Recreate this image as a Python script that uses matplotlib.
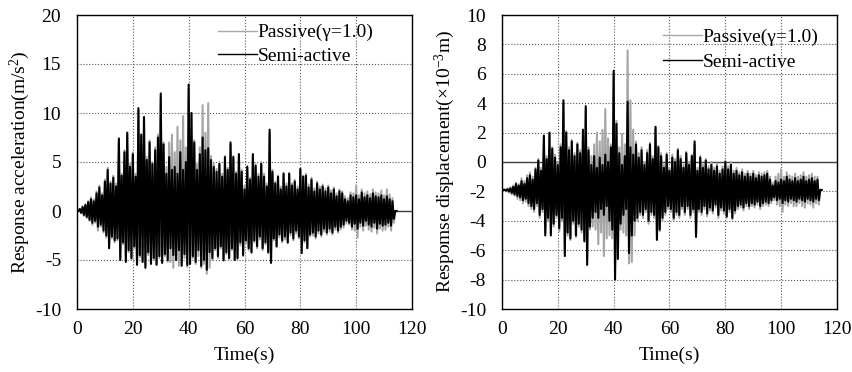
import numpy as np
import matplotlib
matplotlib.use('Agg')
import matplotlib.pyplot as plt

plt.rcParams['font.family'] = ['Liberation Serif', 'DejaVu Serif']
plt.rcParams['mathtext.fontset'] = 'custom'
plt.rcParams['mathtext.rm'] = 'Liberation Serif'
plt.rcParams['mathtext.it'] = 'Liberation Serif:italic'
plt.rcParams['axes.unicode_minus'] = False

# time (s), one envelope sample per second
t = list(range(115))

# acceleration (m/s^2): upper / lower peaks per second
acc_semi_up = [0, 0.2, 0.4, 0.6, 0.9, 1.2, 1.0, 1.8, 2.4, 1.6,
               3.0, 4.2, 2.8, 3.4, 2.5, 7.4, 3.6, 6.0, 8.0, 4.5,
               5.8, 3.5, 10.5, 7.8, 9.6, 5.2, 7.0, 4.8, 6.2, 7.5,
               12.0, 6.8, 3.8, 5.5, 4.2, 4.5, 3.8, 6.0, 4.2, 5.0,
               12.9, 10.0, 7.0, 4.2, 5.8, 7.5, 6.2, 6.4, 5.2, 4.5,
               4.0, 4.8, 3.5, 5.5, 4.2, 7.0, 5.5, 3.8, 5.8, 4.0,
               2.2, 4.5, 3.2, 5.8, 4.6, 3.5, 4.8, 3.5, 2.5, 8.3,
               4.0, 2.8, 3.5, 2.2, 3.8, 2.5, 3.8, 2.6, 3.0, 2.2,
               4.3, 3.5, 3.6, 2.4, 3.2, 2.0, 2.8, 2.2, 2.5, 2.0,
               2.4, 1.8, 2.2, 1.5, 2.0, 1.8, 1.2, 1.0, 1.6, 1.4,
               1.6, 1.2, 1.9, 1.4, 1.6, 1.3, 1.8, 1.5, 1.4, 1.6,
               1.2, 1.5, 1.2, 1.0, 0.0]
acc_semi_lo = [0, -0.2, -0.4, -0.6, -0.9, -1.2, -1.0, -1.6, -1.4, -2.0,
               -2.5, -3.8, -2.6, -3.0, -2.8, -5.0, -3.2, -5.2, -4.0, -4.8,
               -3.6, -5.5, -4.5, -5.2, -5.8, -4.2, -5.4, -4.8, -5.5, -4.6,
               -5.3, -4.4, -5.0, -3.8, -4.5, -5.0, -4.0, -5.6, -4.4, -5.5,
               -5.4, -4.6, -5.2, -4.0, -5.6, -5.0, -6.0, -4.2, -4.8, -3.8,
               -4.6, -3.6, -5.0, -4.2, -4.8, -3.8, -5.0, -4.8, -3.2, -4.5,
               -3.0, -3.8, -4.2, -3.0, -3.6, -2.6, -3.8, -3.2, -4.2, -5.3,
               -2.8, -3.6, -2.4, -3.0, -2.6, -3.2, -2.2, -2.8, -2.0, -2.6,
               -4.3, -3.0, -3.8, -2.4, -2.2, -2.6, -2.0, -2.4, -1.8, -2.2,
               -1.8, -2.2, -1.6, -2.0, -1.6, -1.4, -1.0, -1.2, -1.6, -1.3,
               -1.8, -1.2, -1.5, -1.0, -1.4, -1.6, -1.2, -1.8, -1.3, -1.5,
               -1.4, -1.2, -1.5, -0.8, 0.0]
acc_pass_up = [0, 0.2, 0.5, 0.7, 1.0, 1.4, 1.2, 2.0, 2.6, 1.8,
               3.2, 4.4, 3.0, 3.6, 2.8, 7.2, 3.8, 6.2, 7.8, 4.8,
               6.0, 3.8, 10.3, 7.6, 9.4, 5.5, 7.2, 5.0, 6.5, 7.8,
               11.5, 7.0, 4.5, 7.0, 7.8, 6.0, 8.6, 7.2, 9.7, 6.5,
               12.5, 9.8, 7.2, 4.8, 6.5, 10.8, 8.0, 11.0, 5.6, 4.8,
               4.3, 5.0, 3.8, 5.6, 4.4, 6.8, 5.6, 4.0, 5.8, 4.2,
               2.6, 4.6, 3.4, 5.8, 4.8, 3.8, 5.0, 3.8, 2.8, 8.0,
               4.2, 3.0, 3.6, 2.5, 3.9, 2.8, 3.9, 2.8, 3.2, 2.5,
               4.2, 3.6, 3.8, 2.7, 3.4, 2.3, 3.0, 2.5, 2.7, 2.3,
               2.6, 2.1, 2.4, 1.8, 2.2, 2.0, 1.5, 1.3, 1.9, 1.8,
               2.6, 1.6, 2.2, 1.8, 2.0, 1.7, 2.2, 1.9, 1.8, 2.1,
               1.6, 2.2, 1.7, 1.3, 0.0]
acc_pass_lo = [0, -0.2, -0.5, -0.7, -1.0, -1.4, -1.2, -2.0, -1.6, -2.2,
               -2.7, -3.6, -2.8, -3.2, -3.0, -4.8, -3.4, -5.0, -4.2, -5.0,
               -3.8, -5.3, -4.7, -5.0, -5.6, -4.5, -5.2, -5.0, -5.3, -4.8,
               -5.1, -4.6, -5.2, -5.2, -5.8, -5.0, -5.6, -5.4, -4.8, -5.7,
               -5.2, -4.8, -5.4, -4.6, -5.8, -5.4, -6.4, -5.8, -5.0, -4.0,
               -4.8, -3.8, -5.1, -4.4, -4.9, -4.0, -5.0, -4.9, -3.5, -4.6,
               -3.3, -4.0, -4.3, -3.2, -3.8, -2.9, -4.0, -3.4, -4.3, -5.0,
               -3.0, -3.7, -2.7, -3.2, -2.9, -3.3, -2.5, -3.0, -2.3, -2.8,
               -3.0, -3.2, -3.7, -2.6, -2.5, -2.8, -2.3, -2.6, -2.1, -2.4,
               -2.1, -2.4, -1.9, -2.2, -1.9, -1.7, -1.3, -1.4, -1.9, -2.0,
               -2.7, -1.6, -2.0, -1.5, -1.9, -2.1, -1.7, -2.3, -1.8, -2.0,
               -1.9, -1.6, -2.0, -1.2, 0.0]

# displacement (x10^-3 m): upper / lower peaks per second
dis_semi_up = [-1.9, -1.9, -1.85, -1.8, -1.7, -1.5, -1.6, -1.3, -1.5, -1.1,
               -0.9, -1.2, -0.5, 0.1, -0.6, 1.8, 0.2, 2.0, 0.9, 0.3,
               -0.2, 1.0, 4.2, 2.0, 0.8, 1.4, 0.4, 1.2, 0.6, 2.2,
               3.8, 0.8, -0.2, 0.4, -0.4, 0.3, -0.2, 0.5, 0.0, 1.0,
               6.2, 2.6, 0.6, -0.2, 0.4, 4.1, 1.0, 0.5, 1.2, 0.3,
               0.8, -0.2, 0.6, 1.2, 0.2, 2.4, 1.0, 0.4, -0.4, 0.5,
               -0.6, 0.3, 0.0, 0.8, 0.2, -0.4, 0.6, -0.2, 0.4, 1.4,
               -0.6, 0.3, -0.4, 0.1, -0.5, -0.2, -0.6, -0.3, -0.8, -0.5,
               0.0, -0.5, -0.2, -0.8, -0.6, -0.9, -0.7, -1.0, -0.8, -1.0,
               -0.8, -1.1, -0.9, -1.0, -0.9, -0.8, -1.2, -1.6, -1.3, -1.4,
               -1.2, -1.3, -1.0, -1.2, -1.3, -1.1, -1.3, -1.2, -1.0, -1.3,
               -1.2, -1.1, -1.3, -1.2, -1.9]
dis_semi_lo = [-1.9, -1.95, -2.0, -2.1, -2.2, -2.3, -2.4, -2.6, -2.5, -2.8,
               -3.0, -3.2, -2.8, -3.6, -3.2, -5.0, -3.8, -5.0, -4.2, -3.6,
               -4.5, -3.8, -6.4, -4.8, -5.2, -4.0, -5.0, -4.2, -4.6, -5.4,
               -7.0, -4.4, -3.8, -3.4, -3.8, -3.2, -3.6, -3.0, -4.0, -4.6,
               -8.0, -6.6, -4.2, -3.6, -3.2, -6.2, -5.0, -4.0, -3.8, -3.4,
               -3.6, -3.2, -4.0, -3.4, -3.6, -5.3, -4.6, -3.8, -3.4, -3.0,
               -3.2, -3.8, -3.4, -3.6, -3.0, -3.4, -3.0, -3.6, -3.2, -5.1,
               -3.2, -3.4, -3.0, -3.5, -3.1, -3.3, -2.9, -3.6, -3.1, -3.3,
               -3.7, -3.2, -3.8, -3.3, -3.0, -2.9, -3.1, -2.8, -3.0, -2.8,
               -2.9, -2.7, -3.0, -2.8, -2.7, -2.8, -2.6, -2.4, -2.6, -2.5,
               -2.8, -2.6, -2.7, -2.5, -2.6, -2.7, -2.5, -2.6, -2.7, -2.5,
               -2.6, -2.7, -2.5, -2.6, -1.9]
dis_pass_up = [-1.9, -1.85, -1.8, -1.7, -1.6, -1.4, -1.5, -1.1, -1.3, -0.9,
               -0.7, -1.0, -0.4, 0.2, -0.4, 1.6, 0.4, 1.8, 1.0, 0.5,
               0.0, 1.2, 4.0, 2.1, 1.0, 1.5, 0.6, 1.3, 0.8, 2.0,
               3.6, 1.0, 0.4, 1.2, 2.0, 1.4, 2.2, 3.6, 1.6, 1.2,
               5.8, 2.8, 1.0, 1.9, 1.2, 7.6, 4.2, 2.2, 1.4, 0.6,
               1.0, 0.0, 0.8, 1.3, 0.4, 2.3, 1.1, 0.6, -0.2, 0.6,
               -0.4, 0.5, 0.2, 0.9, 0.4, -0.2, 0.7, 0.0, 0.5, 1.2,
               -0.4, 0.4, -0.2, 0.2, -0.3, 0.0, -0.4, -0.1, -0.6, -0.3,
               0.1, -0.3, 0.0, -0.6, -0.4, -0.7, -0.5, -0.8, -0.6, -0.8,
               -0.6, -0.9, -0.7, -0.8, -0.7, -0.6, -1.0, -1.4, -1.0, -0.8,
               -0.5, -1.0, -0.7, -0.9, -1.0, -0.8, -1.0, -0.9, -0.7, -1.0,
               -0.9, -0.8, -1.0, -1.0, -1.9]
dis_pass_lo = [-1.9, -2.0, -2.1, -2.2, -2.3, -2.5, -2.6, -2.8, -2.7, -3.0,
               -3.2, -3.4, -3.0, -3.8, -3.4, -4.8, -4.0, -4.8, -4.4, -3.8,
               -4.7, -4.0, -6.2, -5.0, -5.3, -4.2, -5.1, -4.4, -4.8, -5.2,
               -6.6, -4.6, -4.4, -4.6, -5.6, -4.8, -6.4, -5.2, -5.0, -5.2,
               -7.6, -6.4, -4.6, -4.8, -5.0, -6.9, -6.8, -5.0, -4.0, -3.6,
               -3.8, -3.4, -4.2, -3.6, -3.8, -5.2, -4.7, -4.0, -3.6, -3.2,
               -3.4, -4.0, -3.6, -3.8, -3.2, -3.6, -3.2, -3.8, -3.4, -5.0,
               -3.4, -3.6, -3.2, -3.7, -3.3, -3.5, -3.1, -3.8, -3.3, -3.5,
               -3.8, -3.4, -3.9, -3.5, -3.2, -3.1, -3.3, -3.0, -3.2, -3.0,
               -3.1, -2.9, -3.2, -3.0, -2.9, -3.0, -2.8, -2.6, -2.9, -3.0,
               -3.4, -2.9, -3.0, -2.8, -3.0, -3.0, -2.8, -3.0, -3.1, -2.8,
               -2.9, -3.1, -2.8, -2.9, -1.9]

GRAY = '#a6a6a6'


def zigzag(times, up, lo):
    # alternate the read peaks: upper at each second, lower half a second later
    tt = np.asarray(times, float)
    x = np.column_stack([tt, tt + 0.5]).ravel()
    y = np.column_stack([up, lo]).ravel()
    return x, y


fig = plt.figure(figsize=(8.52, 3.72), dpi=100)
ax1 = fig.add_axes([77 / 852, 1 - 309 / 372, 335 / 852, 294 / 372])
ax2 = fig.add_axes([502 / 852, 1 - 309 / 372, 335 / 852, 294 / 372])

panels = [
    (ax1, acc_pass_up, acc_pass_lo, acc_semi_up, acc_semi_lo,
     (-10, 20), np.arange(-10, 21, 5), 'Response acceleration(m/s$^{2}$)',
     (0.42, 0.97), 0.3),
    (ax2, dis_pass_up, dis_pass_lo, dis_semi_up, dis_semi_lo,
     (-10, 10), np.arange(-10, 11, 2), 'Respomse displacement(\u00d710$^{-3}$m)',
     (0.48, 0.955), 0.4),
]

for ax, pu, pl, su, sl, ylim, yticks, ylabel, lpos, lsp in panels:
    ax.axhline(0, color='#404040', lw=1.0, zorder=1)
    x, y = zigzag(t, pu, pl)
    ax.plot(x, y, color=GRAY, lw=1.5, label='Passive(\u03b3=1.0)', zorder=2)
    x, y = zigzag(t, su, sl)
    ax.plot(x, y, color='black', lw=1.5, label='Semi-active', zorder=3)
    ax.set_xlim(0, 120)
    ax.set_ylim(*ylim)
    ax.set_xticks(np.arange(0, 121, 20))
    ax.set_yticks(yticks)
    ax.grid(True, color='#555555', ls=':', lw=0.8)
    ax.set_axisbelow(True)
    ax.tick_params(length=0, labelsize=14)
    ax.tick_params(axis='x', pad=9)
    ax.tick_params(axis='y', pad=11.5)
    ax.set_xlabel('Time(s)', fontsize=14, labelpad=6)
    ax.set_ylabel(ylabel, fontsize=14, labelpad=2)
    for s in ax.spines.values():
        s.set_linewidth(1.0)
    leg = ax.legend(loc='upper left', bbox_to_anchor=lpos, frameon=False,
                    fontsize=14, handlelength=2.0, handletextpad=0.05,
                    borderpad=0, labelspacing=lsp, borderaxespad=0)
    for h in leg.get_lines():
        h.set_linewidth(1.0)

fig.savefig('out.png', dpi=100)
